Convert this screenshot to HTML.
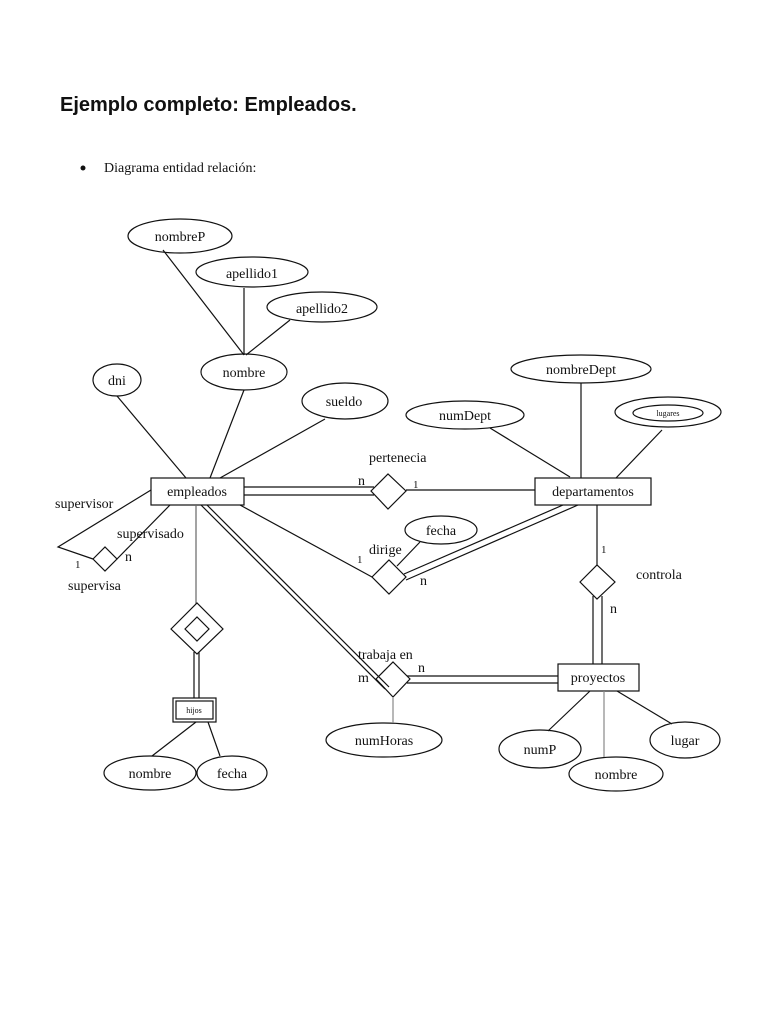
<!DOCTYPE html>
<html><head><meta charset="utf-8"><style>
html,body{margin:0;padding:0;background:#fff;}
svg{display:block;}
text{font-family:"Liberation Serif",serif;font-size:14px;fill:#111;}
</style></head><body>
<svg width="768" height="1024" viewBox="0 0 768 1024" xmlns="http://www.w3.org/2000/svg">
<text x="60" y="111" style="font-family:'Liberation Sans',sans-serif;font-size:20px;font-weight:bold;">Ejemplo completo: Empleados.</text>
<circle cx="83" cy="168" r="2.5" fill="#111"/>
<text x="104" y="172">Diagrama entidad relación:</text>
<g fill="none" stroke="#111" stroke-width="1.2">
<!-- attributes empleados -->
<ellipse cx="180" cy="236" rx="52" ry="17"/>
<ellipse cx="252" cy="272" rx="56" ry="15"/>
<ellipse cx="322" cy="307" rx="55" ry="15"/>
<ellipse cx="244" cy="372" rx="43" ry="18"/>
<ellipse cx="117" cy="380" rx="24" ry="16"/>
<ellipse cx="345" cy="401" rx="43" ry="18"/>
<line x1="163" y1="250" x2="244" y2="355"/>
<line x1="244" y1="288" x2="244" y2="355"/>
<line x1="290" y1="320" x2="246" y2="355"/>
<line x1="244" y1="390" x2="210" y2="478"/>
<line x1="117" y1="396" x2="186" y2="478"/>
<line x1="325" y1="419" x2="220" y2="478"/>
<rect x="151" y="478" width="93" height="27"/>
<!-- pertenecia -->
<polygon points="371,491 388,474 406,491 388,509"/>
<line x1="244" y1="487" x2="374" y2="487"/>
<line x1="244" y1="495" x2="374" y2="495"/>
<line x1="406" y1="490" x2="535" y2="490"/>
<rect x="535" y="478" width="116" height="27"/>
<ellipse cx="581" cy="369" rx="70" ry="14"/>
<ellipse cx="465" cy="415" rx="59" ry="14"/>
<ellipse cx="668" cy="412" rx="53" ry="15"/>
<ellipse cx="668" cy="413" rx="35" ry="8"/>
<line x1="490" y1="428" x2="570" y2="477"/>
<line x1="581" y1="383" x2="581" y2="478"/>
<line x1="662" y1="430" x2="616" y2="478"/>
<!-- dirige -->
<polygon points="372,577 389,560 406,577 389,594"/>
<ellipse cx="441" cy="530" rx="36" ry="14"/>
<line x1="420" y1="542" x2="397" y2="566"/>
<line x1="240" y1="505" x2="372" y2="577"/>
<line x1="404" y1="574" x2="563" y2="505"/>
<line x1="406" y1="580" x2="578" y2="505"/>
<!-- controla -->
<polygon points="580,582 597,565 615,582 597,599"/>
<line x1="597" y1="505" x2="597" y2="565"/>
<line x1="593" y1="596" x2="593" y2="664"/>
<line x1="602" y1="596" x2="602" y2="664"/>
<rect x="558" y="664" width="81" height="27"/>
<!-- trabaja en -->
<polygon points="376,679 393,662 410,679 393,697"/>
<line x1="407" y1="676" x2="558" y2="676"/>
<line x1="407" y1="683" x2="558" y2="683"/>
<line x1="201" y1="505" x2="385" y2="689"/>
<line x1="207" y1="505" x2="389" y2="687"/>
<ellipse cx="384" cy="740" rx="58" ry="17"/>
<line x1="393" y1="697" x2="393" y2="723" stroke="#888"/>
<ellipse cx="540" cy="749" rx="41" ry="19"/>
<ellipse cx="616" cy="774" rx="47" ry="17"/>
<ellipse cx="685" cy="740" rx="35" ry="18"/>
<line x1="548" y1="731" x2="590" y2="691"/>
<line x1="604" y1="691" x2="604" y2="757" stroke="#888"/>
<line x1="617" y1="691" x2="672" y2="724"/>
<!-- supervisa -->
<polygon points="93,559 105,547 117,559 105,571"/>
<polyline points="151,490 58,547 93,559"/>
<line x1="117" y1="559" x2="170" y2="505"/>
<!-- weak -->
<line x1="196" y1="505" x2="196" y2="604" stroke="#666"/>
<polygon points="171,629 197,603 223,629 197,654"/>
<polygon points="185,629 197,617 209,629 197,641"/>
<line x1="194" y1="652" x2="194" y2="698"/>
<line x1="199" y1="652" x2="199" y2="698"/>
<rect x="173" y="698" width="43" height="24"/>
<rect x="176" y="701" width="37" height="18"/>
<ellipse cx="150" cy="773" rx="46" ry="17"/>
<ellipse cx="232" cy="773" rx="35" ry="17"/>
<line x1="196" y1="722" x2="152" y2="756"/>
<line x1="208" y1="722" x2="220" y2="756"/>
</g>
<g text-anchor="middle">
<text x="180" y="241">nombreP</text>
<text x="252" y="278">apellido1</text>
<text x="322" y="313">apellido2</text>
<text x="244" y="377">nombre</text>
<text x="117" y="385">dni</text>
<text x="344" y="406">sueldo</text>
<text x="197" y="496">empleados</text>
<text x="593" y="496">departamentos</text>
<text x="581" y="374">nombreDept</text>
<text x="465" y="420">numDept</text>
<text x="668" y="416" style="font-size:8px">lugares</text>
<text x="441" y="535">fecha</text>
<text x="598" y="682">proyectos</text>
<text x="384" y="745">numHoras</text>
<text x="540" y="754">numP</text>
<text x="616" y="779">nombre</text>
<text x="685" y="745">lugar</text>
<text x="194" y="713" style="font-size:8px">hijos</text>
<text x="150" y="778">nombre</text>
<text x="232" y="778">fecha</text>
</g>
<text x="369" y="462">pertenecia</text>
<text x="358" y="485">n</text>
<text x="413" y="488" style="font-size:11px">1</text>
<text x="369" y="554">dirige</text>
<text x="357" y="563" style="font-size:11px">1</text>
<text x="420" y="585">n</text>
<text x="636" y="579">controla</text>
<text x="601" y="553" style="font-size:11px">1</text>
<text x="610" y="613">n</text>
<text x="358" y="659">trabaja en</text>
<text x="358" y="682">m</text>
<text x="418" y="672">n</text>
<text x="55" y="508">supervisor</text>
<text x="117" y="538">supervisado</text>
<text x="125" y="561">n</text>
<text x="75" y="568" style="font-size:11px">1</text>
<text x="68" y="590">supervisa</text>
</svg>
</body></html>
